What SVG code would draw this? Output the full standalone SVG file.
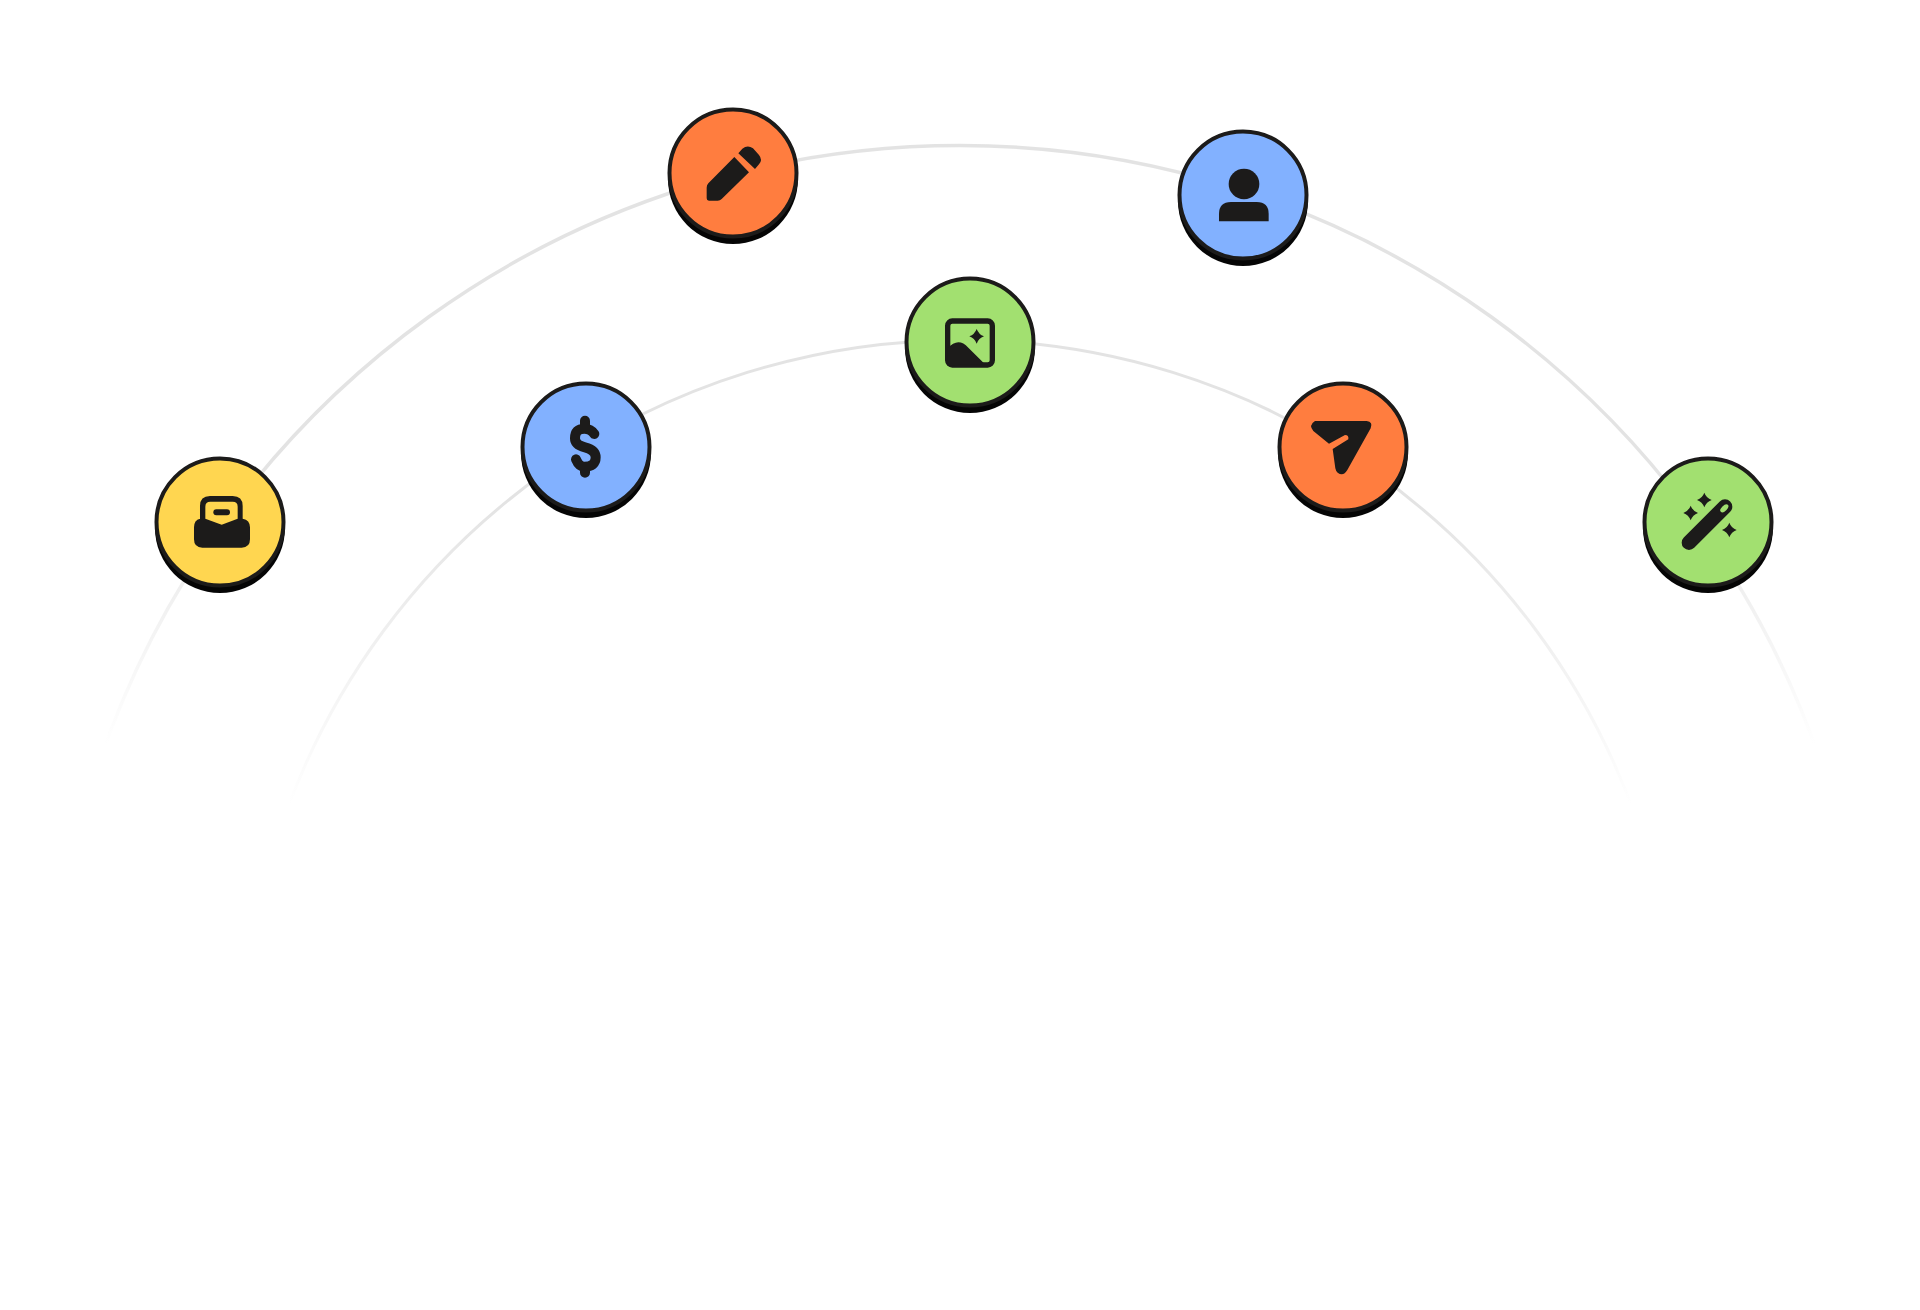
<svg xmlns="http://www.w3.org/2000/svg" width="1920" height="1310" viewBox="0 0 1920 1310">
<defs>
<linearGradient id="fadeO" gradientUnits="userSpaceOnUse" x1="0" y1="460" x2="0" y2="745"><stop offset="0" stop-color="#e3e3e3"/><stop offset="1" stop-color="#e3e3e3" stop-opacity="0"/></linearGradient>
<linearGradient id="fadeI" gradientUnits="userSpaceOnUse" x1="0" y1="500" x2="0" y2="805"><stop offset="0" stop-color="#e3e3e3"/><stop offset="1" stop-color="#e3e3e3" stop-opacity="0"/></linearGradient>
<path id="star" d="M0 -22Q6 -6 22 0Q6 6 0 22Q-6 6 -22 0Q-6 -6 0 -22Z"/>
</defs>
<style>
.shadow{fill:#050505}
.disc{stroke:#1c1b1a;stroke-width:4}
.ink{fill:#1c1b1a}
.yellow{fill:#ffd650}.blue{fill:#82b1ff}.orange{fill:#ff7d3f}.green{fill:#a2e070}
</style>
<rect width="1920" height="1310" fill="#ffffff"/>
<g id="connectors" fill="none" stroke-linecap="butt">
<path d="M98 766A909 909 0 0 1 1822 766" stroke="url(#fadeO)" stroke-width="3.5"/>
<path d="M283 821A717 717 0 0 1 1637 821" stroke="url(#fadeI)" stroke-width="3"/>
</g>
<g id="node-lock">
<circle class="shadow" cx="220" cy="528" r="65"/>
<circle class="disc yellow" cx="220" cy="522" r="63.5"/>
<g transform="translate(140 440) scale(.33333)">
<path class="ink" d="M180 240V198Q180 168 210 168H278Q308 168 308 198V236Q330 240 330 262V298Q330 323 305 323H187Q162 323 162 298V262Q162 240 180 236Z"/>
<path class="yellow" d="M196 236V200Q196 185 211 185H278Q293 185 293 200V236L245 254Z"/>
<rect class="ink" x="220" y="208" width="50" height="18" rx="9"/>
</g>
</g>
<g id="node-dollar">
<circle class="shadow" cx="586" cy="453" r="65"/>
<circle class="disc blue" cx="586" cy="447" r="63.5"/>
<g transform="translate(505 370) scale(.33333)">
<path d="M268 192Q258 176 238 176Q210 176 210 205Q210 225 240 232Q272 240 272 262Q272 290 238 290Q222 290 213 268M240 152V176M240 290V308" fill="none" stroke="#1c1b1a" stroke-width="30" stroke-linecap="round"/>
</g>
</g>
<g id="node-pencil">
<circle class="shadow" cx="733" cy="179" r="65"/>
<circle class="disc orange" cx="733" cy="173" r="63.5"/>
<g transform="translate(655 95) scale(.33333)">
<path class="ink" d="M238 186L282 232L200 312Q195 317 188 317H162Q155 317 155 310V278Q155 270 160 265Z"/>
<path class="ink" d="M250 175L262 161Q278 148 294 160L312 180Q324 195 312 208L300 222Z"/>
</g>
</g>
<g id="node-image">
<circle class="shadow" cx="970" cy="348" r="65"/>
<circle class="disc green" cx="970" cy="342" r="63.5"/>
<g transform="translate(890 265) scale(.33333)">
<rect x="173" y="168" width="134" height="132" rx="14" fill="none" stroke="#1c1b1a" stroke-width="16"/>
<path class="ink" d="M172 250Q190 232 205 232Q220 232 235 248L285 298L172 301Z"/>
<use href="#star" class="ink" transform="translate(260 214)"/>
</g>
</g>
<g id="node-person">
<circle class="shadow" cx="1243" cy="201" r="65"/>
<circle class="disc blue" cx="1243" cy="195" r="63.5"/>
<g transform="translate(1165 118) scale(.33333)">
<circle class="ink" cx="237" cy="198" r="46"/>
<path class="ink" d="M162 310V288Q162 252 198 252H275Q311 252 311 288V310Z"/>
</g>
</g>
<g id="node-send">
<circle class="shadow" cx="1343" cy="453" r="65"/>
<circle class="disc orange" cx="1343" cy="447" r="63.5"/>
<g transform="translate(1265 370) scale(.33333)">
<path class="ink" d="M150 153H305Q325 155 317 175L247 300Q235 320 218 308Q213 305 211 295L203 237L250 208Q252 195 240 195L192 221L145 183Q130 165 150 153Z"/>
</g>
</g>
<g id="node-wand">
<circle class="shadow" cx="1708" cy="528" r="65"/>
<circle class="disc green" cx="1708" cy="522" r="63.5"/>
<g transform="translate(1630 440) scale(.33333)">
<path d="M177 308L285 200" fill="none" stroke="#1c1b1a" stroke-width="44" stroke-linecap="round"/>
<ellipse class="green" cx="283" cy="205" rx="15" ry="8" transform="rotate(-45 283 205)"/>
<use href="#star" class="ink" transform="translate(223 180)"/>
<use href="#star" class="ink" transform="translate(182 219)"/>
<use href="#star" class="ink" transform="translate(298 270)"/>
</g>
</g>
</svg>
